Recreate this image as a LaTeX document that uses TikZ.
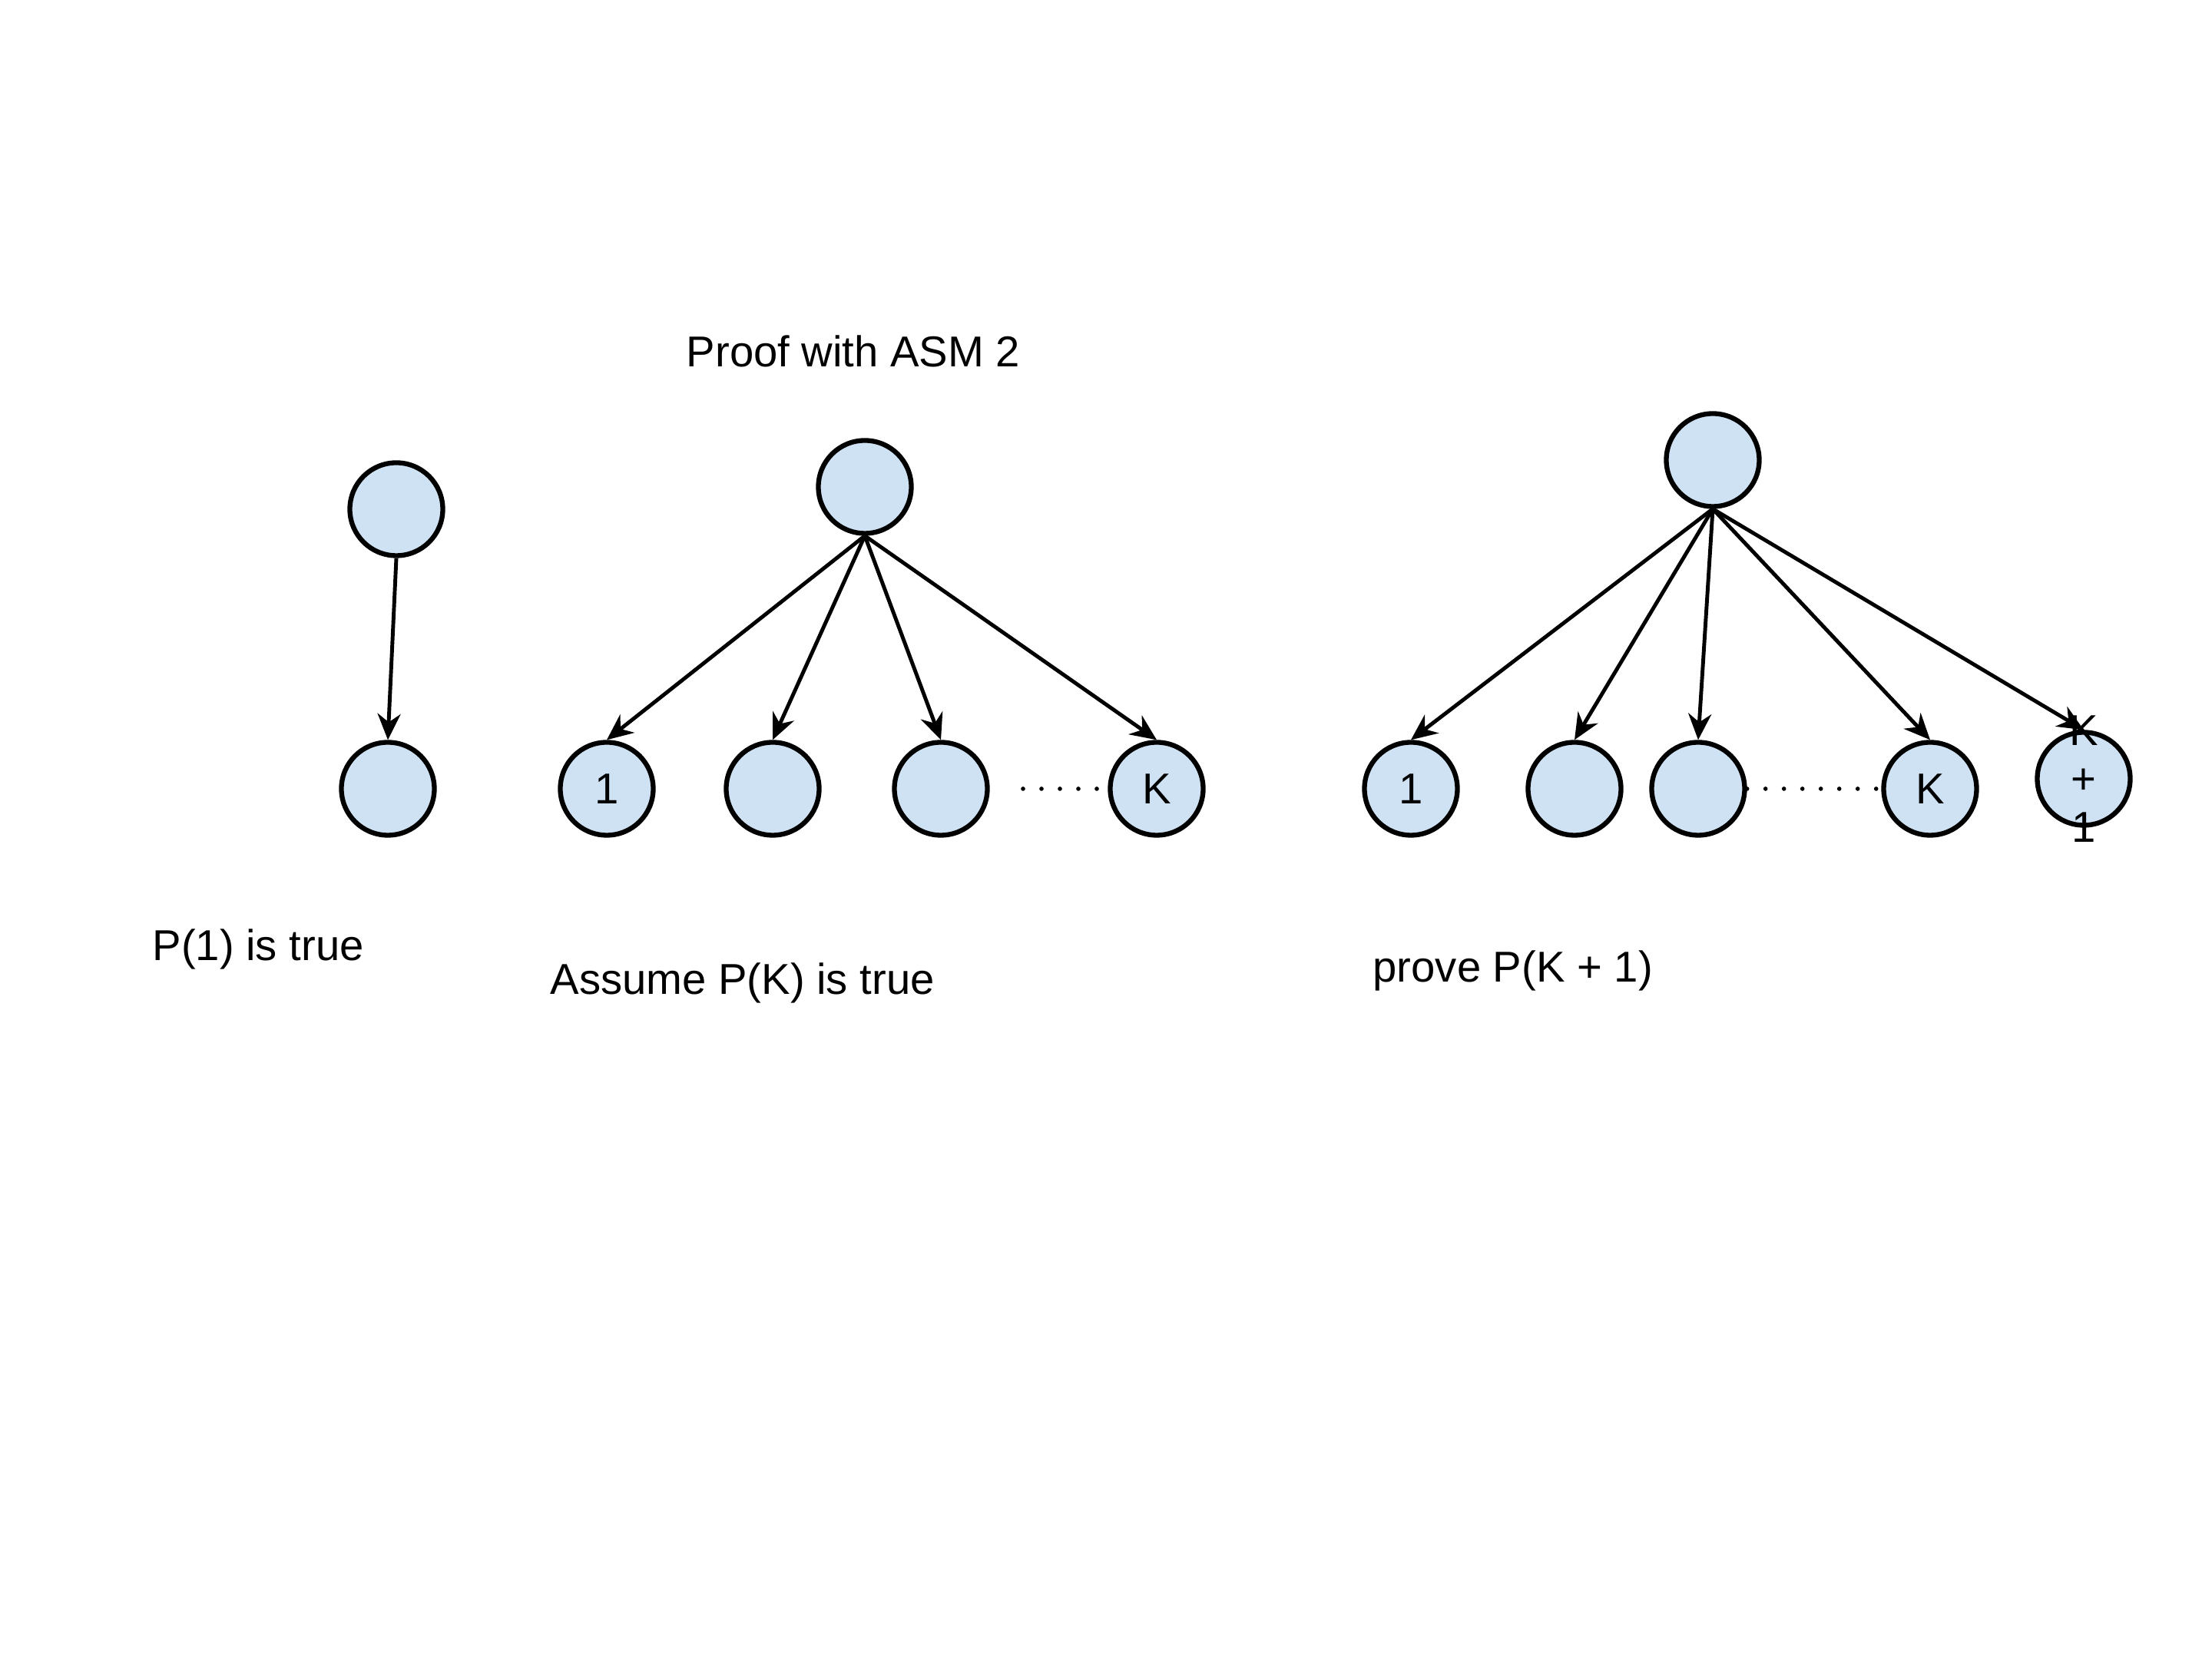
\documentclass[tikz,border=0pt]{standalone}
\usepackage{fontspec}
\setmainfont{Liberation Sans}
\usepackage{xcolor}
\usetikzlibrary{arrows.meta,positioning}
\definecolor{nodeblue}{HTML}{CFE2F3}
\tikzset{
  ball/.style={circle, draw=black, line width=1.8pt, fill=nodeblue,
               minimum size=1.21cm, inner sep=0pt},
  edgearrow/.style={-{Stealth[length=0.34cm,width=0.3cm]}, line width=1.4pt},
  dotline/.style={line width=1.6pt, line cap=round, dash pattern=on 0pt off 0.24cm},
  caption/.style={anchor=west, inner sep=0pt}
}
\begin{document}
\begin{tikzpicture}[font=\fontsize{16}{18}\selectfont]
  \useasboundingbox (0,0) rectangle (28.8,21.6);

  % base case
  \node[ball] (base0) at (5.16,14.97) {};
  \node[ball] (base1) at (5.05,11.33) {};
  \draw[edgearrow] (base0.south) -- (base1.north);
  \node[caption] (text0) at (1.98,9.24) {P(1) is true};

  % assumption
  \node (title) at (11.11,17.03) {Proof with ASM 2};
  \node[ball] (root1) at (11.26,15.26) {};
  \node[ball] (kid11) at (7.90,11.33) {1};
  \node[ball] (kid12) at (10.06,11.33) {};
  \node[ball] (kid13) at (12.25,11.33) {};
  \node[ball] (kid14) at (15.06,11.33) {K};
  \foreach \k in {1,...,4}
    \draw[edgearrow] (root1.south) -- (kid1\k.north);
  \coordinate (dots1a) at (13.32,11.33);
  \coordinate (dots1b) at (14.42,11.33);
  \draw[dotline] (dots1a) -- (dots1b);
  \node[caption] (text1) at (7.16,8.80) {Assume P(K) is true};

  % step
  \node[ball] (root2) at (22.30,15.61) {};
  \node[ball] (kid21) at (18.37,11.33) {1};
  \node[ball] (kid22) at (20.50,11.33) {};
  \node[ball] (kid23) at (22.11,11.33) {};
  \node[ball] (kid24) at (25.13,11.33) {K};
  \node[ball] (kid25) at (27.13,11.46) {};
  \node[align=center, inner sep=0pt] (kplus) at (kid25.center) {K\\+\\1};
  \foreach \k in {1,...,5}
    \draw[edgearrow] (root2.south) -- (kid2\k.north);
  \draw[dotline] (kid23.east) -- (kid24.west);
  \node[caption] (text2) at (17.87,8.96) {prove P(K + 1)};

\end{tikzpicture}
\end{document}
